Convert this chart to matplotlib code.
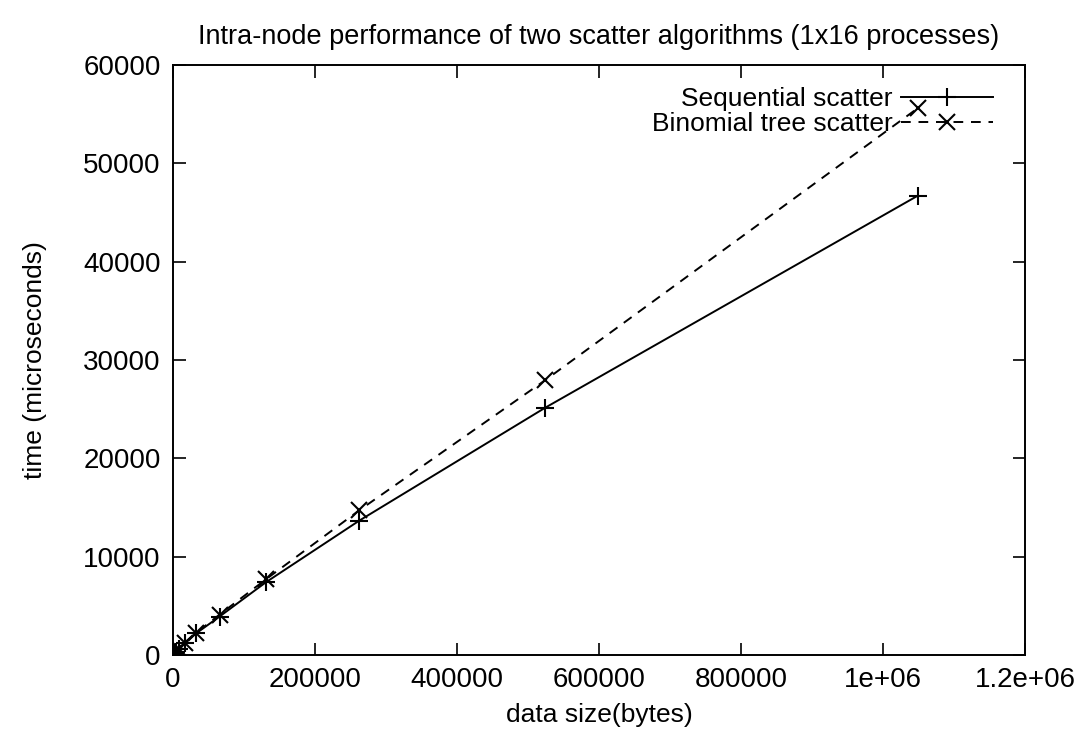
import matplotlib
matplotlib.use("Agg")
import matplotlib.pyplot as plt

# размеры сообщений (байты) и время (мкс)
sizes = [1, 2, 4, 8, 16, 32, 64, 128, 256, 512, 1024, 2048, 4096, 8192,
         16384, 32768, 65536, 131072, 262144, 524288, 1048576]
seq_time = [30, 30, 31, 32, 33, 35, 38, 45, 55, 70, 110, 180, 320, 620,
            1200, 2200, 3900, 7400, 13650, 25150, 46700]
binom_time = [35, 36, 37, 38, 40, 42, 46, 52, 62, 80, 120, 190, 340, 650,
              1250, 2250, 4100, 7700, 14700, 27950, 55600]

xticks = [0, 200000, 400000, 600000, 800000, 1000000, 1200000]
xtick_labels = ["0", "200000", "400000", "600000", "800000", "1e+06", "1.2e+06"]
yticks = [0, 10000, 20000, 30000, 40000, 50000, 60000]

plt.rcParams['font.family'] = ['Liberation Sans', 'DejaVu Sans']

fig = plt.figure(figsize=(10.84, 7.40), dpi=100)
ax = fig.add_axes([0.1596, 0.115, 0.786, 0.797])

ax.plot(sizes, seq_time, color='black', linewidth=1.4, marker='+',
        markersize=13, markeredgewidth=1.5, label='Sequential scatter')
ax.plot(sizes, binom_time, color='black', linewidth=1.4, linestyle=(0, (5, 4)),
        marker='x', markersize=11, markeredgewidth=1.5, label='Binomial tree scatter')

ax.set_xlim(0, 1200000)
ax.set_ylim(0, 60000)
ax.set_xticks(xticks)
ax.set_xticklabels(xtick_labels)
ax.set_yticks(yticks)
ax.tick_params(direction='in', length=9, width=1.2, top=True, right=True,
               labelsize=20, pad=9)
for s in ax.spines.values():
    s.set_linewidth(1.4)

ax.set_xlabel('data size(bytes)', fontsize=19, labelpad=7)
ax.set_ylabel('time (microseconds)', fontsize=19, labelpad=26)
ax.set_title('Intra-node performance of two scatter algorithms (1x16 processes)',
             fontsize=19.5, pad=15)

ax.legend(loc='upper right', bbox_to_anchor=(0.981, 0.99), frameon=False,
          markerfirst=False, fontsize=19, handlelength=3.5, handletextpad=0.3,
          labelspacing=0.05, borderaxespad=0.3, borderpad=0.3)

fig.savefig('out.png', dpi=100)
